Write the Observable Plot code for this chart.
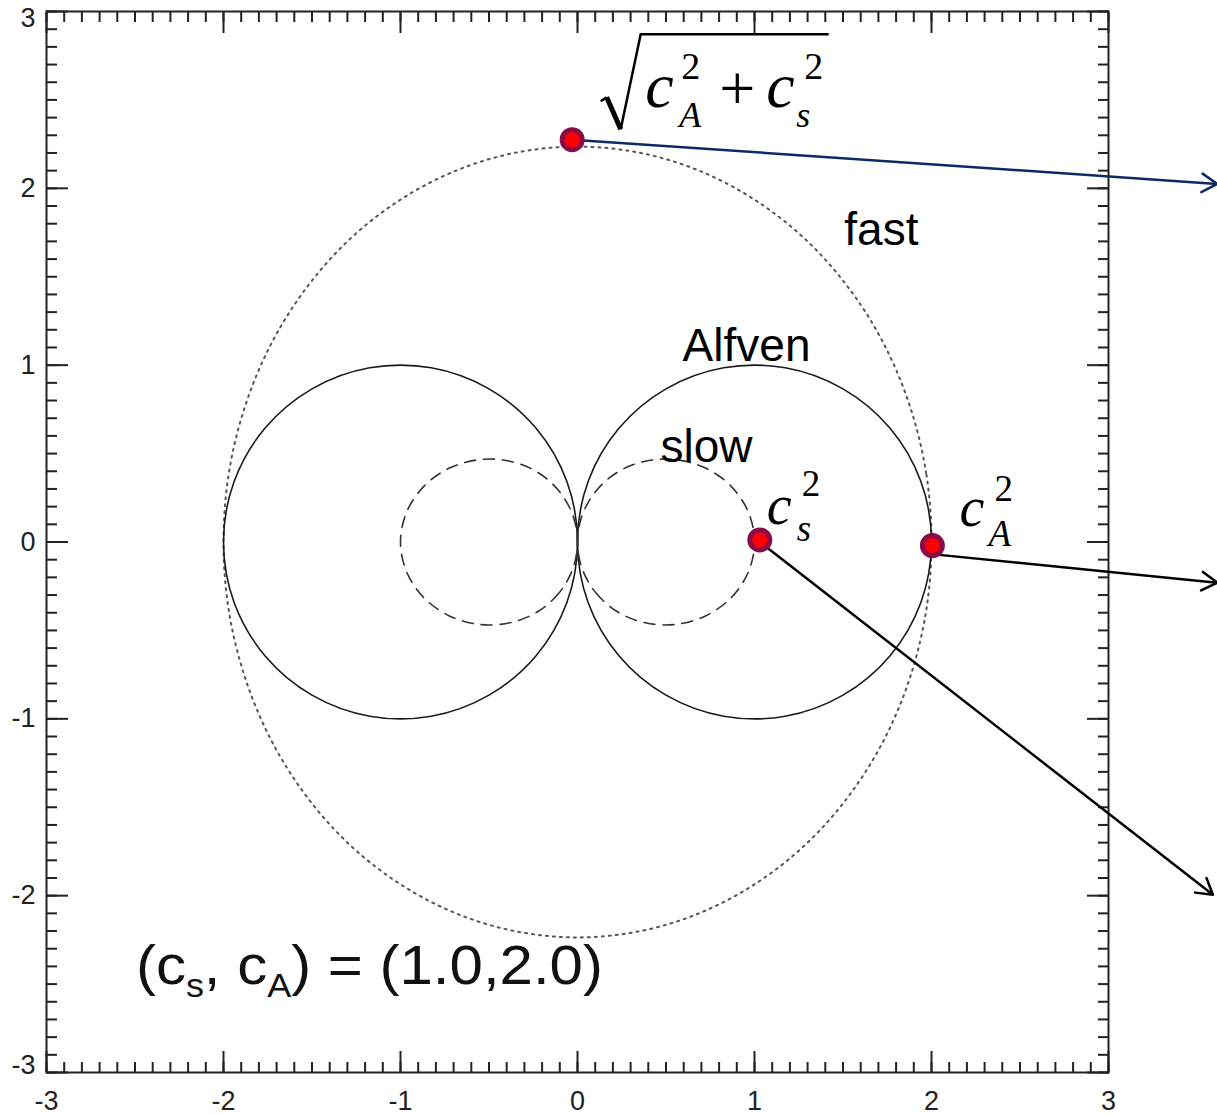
<!DOCTYPE html>
<html>
<head>
<meta charset="utf-8">
<script src="https://cdn.jsdelivr.net/npm/d3@7"></script>
<script src="https://cdn.jsdelivr.net/npm/@observablehq/plot@0.6"></script>
<style>
  html, body { margin: 0; padding: 0; background: #fff; }
  #chart svg { display: block; }
</style>
</head>
<body>
<div id="chart"></div>
<script>
// Phase-speed diagram of the three MHD modes for (cs, cA) = (1.0, 2.0).
// Each mode is listed in the first quadrant only (x along B, y across B);
// the diagram is symmetric about both axes, so the rest is mirrored.

// Alfven: points from the axis (x = cA) round to the origin
const alfvenQ1 = [
  [2.000, 0.000], [1.940, 0.342], [1.766, 0.643], [1.500, 0.866], [1.174, 0.985],
  [0.826, 0.985], [0.500, 0.866], [0.234, 0.643], [0.060, 0.342], [0.000, 0.000]
];
// slow: from the axis (x = cs) round to the origin
const slowQ1 = [
  [1.000, 0.000], [0.965, 0.170], [0.867, 0.316], [0.723, 0.418], [0.555, 0.466],
  [0.383, 0.457], [0.228, 0.396], [0.106, 0.290], [0.027, 0.153], [0.000, 0.000]
];
// fast: from the axis (x = cA) up to the top (y = sqrt(cA^2 + cs^2))
const fastQ1 = [
  [2.000, 0.000], [1.970, 0.388], [1.879, 0.765], [1.732, 1.118], [1.532, 1.437],
  [1.286, 1.713], [1.000, 1.936], [0.684, 2.101], [0.347, 2.202], [0.000, 2.236]
];

const majorTicks = [-3, -2, -1, 0, 1, 2, 3];
const minorTicks = d3.ticks(-3, 3, 60);

// highlighted speeds
const markers = [
  {name: "sqrt(cA2+cs2)", x: -0.03, y: 2.275},
  {name: "cs2", x: 1.03, y: 0.012},
  {name: "cA2", x: 2.005, y: -0.02}
];

// pointers running off to the right of the panel
const pointers = [
  {x1: -0.03, y1: 2.275, x2: 3.615, y2: 2.025, color: "#0e2a66"},
  {x1: 2.015, y1: -0.07, x2: 3.615, y2: -0.23, color: "#000000"},
  {x1: 1.03, y1: 0.0, x2: 3.59, y2: -1.995, color: "#000000"}
];

const modeNames = ["fast", "Alfven", "slow"];
const modeNameX = [1.717, 0.955, 0.729];
const modeNameY = [1.682, 1.023, 0.453];

const cs = "1.0";
const cA = "2.0";
const paramAnchor = {x: -2.492, y: -2.503};

// ---- build closed outlines from the first-quadrant points ----
function lobe(q1, side, part) {
  const lower = q1.slice(1, -1).reverse().map(([x, y]) => [x, -y]);
  return [...lower, ...q1].map(([x, y]) => ({x: side * x, y, part}));
}
function loop(q1, part) {
  const q2 = q1.slice(0, -1).reverse().map(([x, y]) => [-x, y]);
  const q3 = q1.slice(1).map(([x, y]) => [-x, -y]);
  const q4 = q1.slice(1, -1).reverse().map(([x, y]) => [x, -y]);
  return [...q1, ...q2, ...q3, ...q4].map(([x, y]) => ({x, y, part}));
}
const alfven = [...lobe(alfvenQ1, 1, "A+"), ...lobe(alfvenQ1, -1, "A-")];
const slow = [...lobe(slowQ1, 1, "S+"), ...lobe(slowQ1, -1, "S-")];
const fast = loop(fastQ1, "F");

const modeLabels = modeNames.map((text, i) => ({text, x: modeNameX[i], y: modeNameY[i]}));

const sans = "'Liberation Sans', Arial, Helvetica, sans-serif";
const serif = "'Liberation Serif', 'Times New Roman', serif";
const ink = "#222";

// one glyph of a typeset label, placed relative to a marker
function glyph(p, str, dx, dy, size, italic = true, anchor = "start") {
  return Plot.text([p], {
    x: "x", y: "y", text: () => str, dx, dy,
    fontSize: size, fontFamily: serif, fontStyle: italic ? "italic" : "normal",
    textAnchor: anchor, lineAnchor: "bottom", fill: "#000"
  });
}

// radical sign over c_A^2 + c_s^2
function radical(p) {
  return (index, {x, y}) => {
    const g = d3.create("svg:g")
      .attr("transform", `translate(${x(p.x)},${y(p.y)})`)
      .attr("fill", "none").attr("stroke", "#000").attr("stroke-linejoin", "miter");
    g.append("path").attr("d", "M29,-38L35,-42").attr("stroke-width", 2.5);
    g.append("path").attr("d", "M35,-42L49,-10").attr("stroke-width", 5);
    g.append("path").attr("d", "M49,-10L69,-105H257").attr("stroke-width", 2.5);
    return g.node();
  };
}

// "(c_s, c_A) = (1.0,2.0)" with real subscripts
function paramLabel(index, {x, y}) {
  const t = d3.create("svg:text")
    .attr("x", x(paramAnchor.x)).attr("y", y(paramAnchor.y))
    .attr("text-anchor", "start")
    .attr("font-family", sans).attr("font-size", 55).attr("fill", "#111")
    .attr("textLength", 467).attr("lengthAdjust", "spacingAndGlyphs");
  t.append("tspan").text("(c");
  t.append("tspan").attr("font-size", 33).attr("dy", 13).text("s");
  t.append("tspan").attr("dy", -13).text(", c");
  t.append("tspan").attr("font-size", 33).attr("dy", 13).text("A");
  t.append("tspan").attr("dy", -13).text(`) = (${cs},${cA})`);
  return t.node();
}

const tickStyle = {fill: "none", label: null, stroke: ink, strokeWidth: 2};
const tickText = {tickSize: 0, label: null, fontSize: 27, fill: ink, fontFamily: sans, tickFormat: (d) => String(d)};

const [pSqrt, pCs, pCa] = markers;

const chart = Plot.plot({
  width: 1217,
  height: 1115,
  marginLeft: 46,
  marginRight: 109,
  marginTop: 11,
  marginBottom: 43,
  style: {background: "#fff", fontFamily: sans, overflow: "visible"},
  x: {domain: [-3, 3], label: null},
  y: {domain: [-3, 3], label: null},
  marks: [
    // inward ticks on all four sides
    ...["bottom", "top"].flatMap((anchor) => [
      Plot.axisX({anchor, ticks: minorTicks, tickSize: -10, ...tickStyle}),
      Plot.axisX({anchor, ticks: majorTicks, tickSize: -21, ...tickStyle})
    ]),
    ...["left", "right"].flatMap((anchor) => [
      Plot.axisY({anchor, ticks: minorTicks, tickSize: -11, ...tickStyle}),
      Plot.axisY({anchor, ticks: majorTicks, tickSize: -22, ...tickStyle})
    ]),
    Plot.axisX({anchor: "bottom", ticks: majorTicks, tickPadding: 18, ...tickText}),
    Plot.axisY({anchor: "left", ticks: majorTicks.slice(1, -1), tickPadding: 11, ...tickText}),
    Plot.axisY({anchor: "left", ticks: [3], tickPadding: 11, dy: 7, ...tickText}),
    Plot.axisY({anchor: "left", ticks: [-3], tickPadding: 11, dy: -7, ...tickText}),
    Plot.frame({stroke: ink, strokeWidth: 2}),

    // wave modes
    Plot.line(fast, {x: "x", y: "y", z: "part", curve: "catmull-rom-closed",
      stroke: "#555", strokeWidth: 2, strokeDasharray: "2,5"}),
    Plot.line(alfven, {x: "x", y: "y", z: "part", curve: "catmull-rom-closed",
      stroke: "#1a1a1a", strokeWidth: 1.6}),
    Plot.line(slow, {x: "x", y: "y", z: "part", curve: "catmull-rom-closed",
      stroke: "#333", strokeWidth: 1.6, strokeDasharray: "11,8"}),

    Plot.text(modeLabels, {x: "x", y: "y", text: "text", fontSize: 46, fontFamily: sans,
      textAnchor: "middle", lineAnchor: "bottom", fill: "#000"}),

    // pointers and highlighted speeds
    Plot.arrow(pointers, {x1: "x1", y1: "y1", x2: "x2", y2: "y2", stroke: "color",
      strokeWidth: 2.5, headLength: 10.8, headAngle: 62}),
    Plot.dot(markers, {x: "x", y: "y", r: 10, fill: "#ff0000", stroke: "#8b0a48", strokeWidth: 5}),

    // sqrt(c_A^2 + c_s^2)
    radical(pSqrt),
    glyph(pSqrt, "c", 73, -33, 64),
    glyph(pSqrt, "2", 109, -61, 38, false),
    glyph(pSqrt, "A", 107, -13, 36),
    glyph(pSqrt, "+", 147, -30, 64, false),
    glyph(pSqrt, "c", 194, -33, 64),
    glyph(pSqrt, "2", 232, -61, 38, false),
    glyph(pSqrt, "s", 224, -13, 36),
    // c_s^2
    glyph(pCs, "c", 7, -16, 56),
    glyph(pCs, "2", 42, -44, 37, false),
    glyph(pCs, "s", 37, 1, 37),
    // c_A^2
    glyph(pCa, "c", 27, -20, 56),
    glyph(pCa, "2", 62, -45, 37, false),
    glyph(pCa, "A", 56, 0, 37),

    paramLabel
  ]
});

document.getElementById("chart").append(chart);
</script>
</body>
</html>
